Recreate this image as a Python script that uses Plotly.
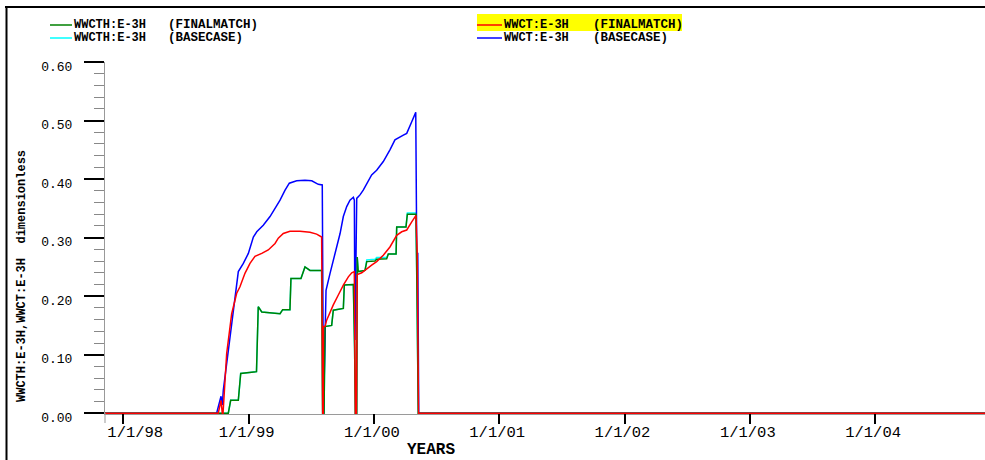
import plotly.graph_objects as go

# ---------------- data (time in decimal years, values dimensionless) ----------------
t_start, t_end = 1997.854, 2004.90

wwct_base_t = [t_start, 1998.745, 1998.780, 1998.790, 1998.798, 1998.825, 1998.852, 1998.878,
               1998.918, 1998.958, 1998.998, 1999.038, 1999.065, 1999.117, 1999.171, 1999.211,
               1999.251, 1999.291, 1999.325, 1999.384, 1999.450, 1999.504, 1999.556, 1999.588,
               1999.592, 1999.598, 1999.603, 1999.610, 1999.618, 1999.650, 1999.690, 1999.730,
               1999.756, 1999.783, 1999.809, 1999.836, 1999.844, 1999.849, 1999.863, 1999.889,
               1999.915, 1999.955, 1999.982, 2000.022, 2000.075, 2000.128, 2000.168, 2000.235,
               2000.262, 2000.302, 2000.334, 2000.342, 2000.350, 2000.358, t_end]
wwct_base_v = [0.0, 0.0, 0.029, 0.014, 0.039, 0.085, 0.136, 0.182,
               0.242, 0.256, 0.273, 0.301, 0.310, 0.321, 0.336, 0.350,
               0.364, 0.381, 0.393, 0.397, 0.398, 0.397, 0.391, 0.390,
               0.0, 0.0, 0.056, 0.150, 0.210, 0.239, 0.273, 0.307,
               0.336, 0.353, 0.364, 0.369, 0.364, 0.125, 0.367, 0.373,
               0.381, 0.398, 0.407, 0.415, 0.430, 0.450, 0.467, 0.475,
               0.478, 0.498, 0.514, 0.273, 0.273, 0.0, 0.0]

wwct_fm_t = [t_start, 1998.758, 1998.780, 1998.790, 1998.796, 1998.806, 1998.825, 1998.865,
             1998.905, 1998.931, 1998.971, 1999.011, 1999.051, 1999.105, 1999.157, 1999.211,
             1999.237, 1999.277, 1999.330, 1999.410, 1999.490, 1999.543, 1999.583, 1999.591,
             1999.596, 1999.597, 1999.610, 1999.623, 1999.650, 1999.676, 1999.716, 1999.756,
             1999.796, 1999.823, 1999.844, 1999.852, 1999.861, 1999.867, 1999.903, 1999.943,
             1999.982, 2000.022, 2000.075, 2000.128, 2000.182, 2000.222, 2000.262, 2000.302,
             2000.336, 2000.346, 2000.356, t_end]
wwct_fm_v = [0.0, 0.0, 0.022, 0.0, 0.0, 0.039, 0.102, 0.170,
             0.205, 0.216, 0.239, 0.256, 0.268, 0.273, 0.279, 0.290,
             0.299, 0.307, 0.311, 0.311, 0.309, 0.306, 0.301, 0.0,
             0.0, 0.148, 0.148, 0.159, 0.173, 0.185, 0.202, 0.219,
             0.233, 0.240, 0.242, 0.0, 0.0, 0.237, 0.240, 0.247,
             0.253, 0.259, 0.270, 0.284, 0.304, 0.310, 0.313, 0.327,
             0.338, 0.270, 0.0, 0.0]

wwcth_fm_t = [t_start, 1998.838, 1998.857, 1998.918, 1998.937, 1998.998, 1999.051, 1999.063,
              1999.077, 1999.105, 1999.251, 1999.272, 1999.330, 1999.338, 1999.418, 1999.450,
              1999.490, 1999.583, 1999.591, 1999.602, 1999.610, 1999.663, 1999.676, 1999.756,
              1999.764, 1999.836, 1999.846, 1999.852, 1999.863, 1999.867, 1999.875, 1999.929,
              1999.943, 2000.009, 2000.022, 2000.102, 2000.115, 2000.177, 2000.182, 2000.256,
              2000.267, 2000.336, 2000.344, 2000.354, t_end]
wwcth_fm_v = [0.0, 0.0, 0.022, 0.022, 0.068, 0.070, 0.071, 0.071,
              0.182, 0.173, 0.170, 0.177, 0.177, 0.230, 0.230, 0.250,
              0.244, 0.244, 0.0, 0.0, 0.148, 0.150, 0.176, 0.179,
              0.219, 0.220, 0.110, 0.0, 0.0, 0.267, 0.242, 0.244,
              0.259, 0.260, 0.263, 0.264, 0.272, 0.272, 0.318, 0.318,
              0.340, 0.340, 0.200, 0.0, 0.0]

wwcth_base_t = wwcth_fm_t
wwcth_base_v = [0.0, 0.0, 0.022, 0.022, 0.068, 0.070, 0.071, 0.071,
                0.182, 0.173, 0.170, 0.177, 0.177, 0.230, 0.230, 0.250,
                0.244, 0.244, 0.0, 0.0, 0.148, 0.150, 0.176, 0.179,
                0.219, 0.220, 0.110, 0.0, 0.0, 0.267, 0.242, 0.244,
                0.262, 0.263, 0.266, 0.266, 0.272, 0.272, 0.318, 0.318,
                0.342, 0.342, 0.200, 0.0, 0.0]

x_tick_vals = [1998, 1999, 2000, 2001, 2002, 2003, 2004]
x_tick_text = ["1/1/98", "1/1/99", "1/1/00", "1/1/01", "1/1/02", "1/1/03", "1/1/04"]
y_tick_vals = [0.0, 0.1, 0.2, 0.3, 0.4, 0.5, 0.6]
y_tick_text = ["0.00", "0.10", "0.20", "0.30", "0.40", "0.50", "0.60"]

legend_left = [("WWCTH:E-3H", "(FINALMATCH)", "#008000"), ("WWCTH:E-3H", "(BASECASE)", "#00FFFF")]
legend_right = [("WWCT:E-3H", "(FINALMATCH)", "#FF0000"), ("WWCT:E-3H", "(BASECASE)", "#0000FF")]

# ---------------- layout geometry ----------------
W, H = 985, 460
ML, MR, MT, MB = 105, 0, 62, 45
PW = W - ML - MR
PH = H - MT - MB
Y0, Y1 = -0.003, 0.6


def px(x):
    return (x - ML) / PW


def py(y):
    return (H - MB - y) / PH


MONO = "Liberation Mono"
NB = "\u00a0"

# first date label sits a little to the right of its tick in the reference
x_tick_disp = [NB * 3 + x_tick_text[0]] + x_tick_text[1:]

fig = go.Figure()
for tt, vv, col in [(wwcth_base_t, wwcth_base_v, "#00FFFF"),
                    (wwct_base_t, wwct_base_v, "#0000FF"),
                    (wwcth_fm_t, wwcth_fm_v, "#008000"),
                    (wwct_fm_t, wwct_fm_v, "#FF0000")]:
    fig.add_trace(go.Scatter(x=tt, y=vv, mode="lines", line=dict(color=col, width=1.5),
                             hoverinfo="skip", showlegend=False))

shapes = []
annotations = []

# frame (left and top edges)
shapes.append(dict(type="line", xref="paper", yref="paper", x0=px(6.5), x1=px(6.5),
                   y0=py(6), y1=py(470), line=dict(color="black", width=2), layer="above"))
shapes.append(dict(type="line", xref="paper", yref="paper", x0=px(5.5), x1=px(1000),
                   y0=py(7), y1=py(7), line=dict(color="black", width=2), layer="above"))
# grey x axis baseline just under the zero line and y axis stub below it
shapes.append(dict(type="line", xref="paper", yref="paper", x0=0, x1=1,
                   y0=py(414.5), y1=py(414.5), line=dict(color="#9a9a9a", width=1), layer="below"))
shapes.append(dict(type="line", xref="paper", yref="paper", x0=0, x1=0,
                   y0=py(413), y1=py(423), line=dict(color="#999999", width=1)))

# legend
shapes.append(dict(type="rect", xref="paper", yref="paper", x0=px(477), x1=px(682),
                   y0=py(31), y1=py(14), fillcolor="#FFFF00", line=dict(width=0), layer="below"))
for i, (name, case, col) in enumerate(legend_left):
    yy = 25 + i * 13
    shapes.append(dict(type="line", xref="paper", yref="paper", x0=px(50), x1=px(72),
                       y0=py(yy), y1=py(yy), line=dict(color=col, width=1.5)))
    annotations.append(dict(xref="paper", yref="paper", x=px(72), y=py(yy), text=name,
                            showarrow=False, xanchor="left", yanchor="middle",
                            font=dict(family=MONO, size=12, color="black", weight="bold")))
    annotations.append(dict(xref="paper", yref="paper", x=px(166), y=py(yy), text=case,
                            showarrow=False, xanchor="left", yanchor="middle",
                            font=dict(family=MONO, size=12.5, color="black", weight="bold")))
for i, (name, case, col) in enumerate(legend_right):
    yy = 25 + i * 13
    shapes.append(dict(type="line", xref="paper", yref="paper", x0=px(477), x1=px(502),
                       y0=py(yy), y1=py(yy), line=dict(color=col, width=1.5)))
    annotations.append(dict(xref="paper", yref="paper", x=px(502), y=py(yy), text=name,
                            showarrow=False, xanchor="left", yanchor="middle",
                            font=dict(family=MONO, size=12, color="black", weight="bold")))
    annotations.append(dict(xref="paper", yref="paper", x=px(591), y=py(yy), text=case,
                            showarrow=False, xanchor="left", yanchor="middle",
                            font=dict(family=MONO, size=12.5, color="black", weight="bold")))

# axis titles
annotations.append(dict(xref="paper", yref="paper", x=px(22), y=py(276),
                        text="WWCTH:E-3H,WWCT:E-3H" + NB * 2 + "dimensionless", textangle=-90,
                        showarrow=False, xanchor="center", yanchor="middle",
                        font=dict(family=MONO, size=12, color="black", weight="bold")))
annotations.append(dict(xref="paper", yref="paper", x=px(431), y=py(449.5), text="YEARS",
                        showarrow=False, xanchor="center", yanchor="middle",
                        font=dict(family=MONO, size=16, color="black", weight="bold")))

fig.update_layout(
    width=W, height=H,
    margin=dict(l=ML, r=MR, t=MT, b=MB, pad=0),
    paper_bgcolor="white", plot_bgcolor="white",
    showlegend=False,
    shapes=shapes, annotations=annotations,
    xaxis=dict(range=[t_start, 2004.877], tickmode="array", tickvals=x_tick_vals,
               ticktext=x_tick_disp, ticks="outside", ticklen=10, tickwidth=1.5,
               tickcolor="black", showline=False, showgrid=False, zeroline=False,
               anchor="free", position=(0 - Y0) / (Y1 - Y0),
               ticklabelshift=-2, ticklabelstandoff=-6,
               tickfont=dict(family=MONO, size=15.5, color="black")),
    yaxis=dict(range=[Y0, Y1], tickmode="array", tickvals=y_tick_vals, ticktext=y_tick_text,
               ticks="outside", ticklen=20, tickwidth=1.5, tickcolor="black",
               showline=True, linecolor="#999999", linewidth=1, showgrid=False, zeroline=False,
               ticklabelstandoff=9, ticklabelshift=4,
               minor=dict(dtick=0.02, tick0=0, ticks="outside", ticklen=10,
                          tickcolor="#888888", tickwidth=1, showgrid=False),
               tickfont=dict(family=MONO, size=13, color="black")),
)

post = (
    "document.body.style.margin='0';"
    "document.body.style.overflow='hidden';"
    "var fr=document.createElement('div');"
    "fr.style.cssText='position:absolute;left:5px;top:6px;width:990px;height:2px;"
    "background:#000;z-index:1000;pointer-events:none;';"
    "document.body.appendChild(fr);"
)
fig.write_html("out.html", config={"displayModeBar": False}, post_script=post)
